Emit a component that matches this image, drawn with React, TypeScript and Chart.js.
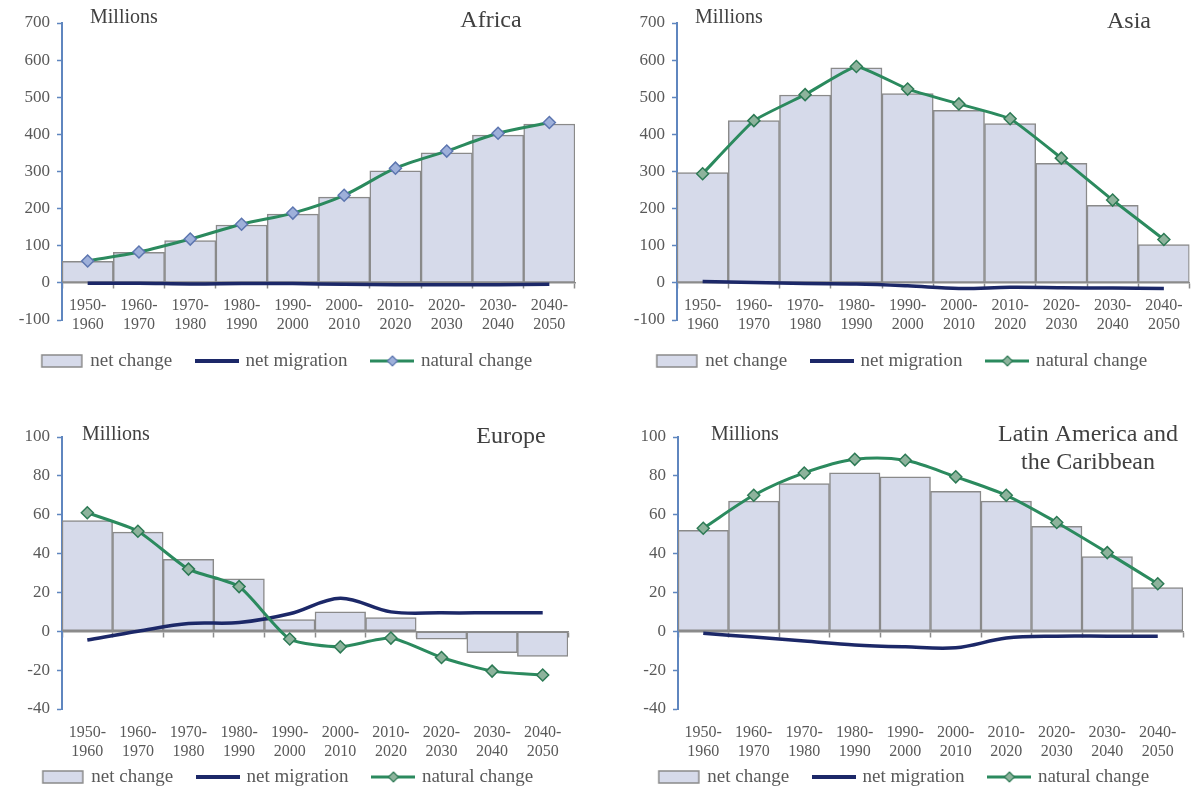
import React, { useEffect, useRef } from 'react';
import { Chart, registerables } from 'chart.js';

Chart.register(...registerables);

// ---------- data ----------
const PERIOD_START = ['1950-', '1960-', '1970-', '1980-', '1990-', '2000-', '2010-', '2020-', '2030-', '2040-'];
const PERIOD_END = ['1960', '1970', '1980', '1990', '2000', '2010', '2020', '2030', '2040', '2050'];

const AFRICA_NET = [58, 82, 114, 156, 185, 231, 302, 350, 398, 428];
const AFRICA_NATURAL = [59, 83, 118, 158, 188, 236, 309, 355, 403, 432];
const AFRICA_MIGRATION = [-1, -1, -3, -2, -2, -4, -5, -5, -5, -4];

const ASIA_NET = [297, 437, 506, 579, 510, 465, 429, 322, 209, 103];
const ASIA_NATURAL = [294, 437, 507, 583, 522, 482, 442, 336, 223, 117];
const ASIA_MIGRATION = [4, 1, -2, -3, -8, -15, -12, -13, -14, -15];

const EUROPE_NET = [57, 51, 37, 27, 6, 10, 7, -4, -11, -13];
const EUROPE_NATURAL = [61, 51.5, 32, 23, -4, -8, -3.5, -13.5, -20.5, -22.5];
const EUROPE_MIGRATION = [-4.5, 0, 4, 4.5, 9, 17, 10, 9.5, 9.5, 9.5];

const LATAM_NET = [52, 67, 76, 81.5, 79.5, 72, 67, 54, 38.5, 22.5];
const LATAM_NATURAL = [53, 70, 81.5, 88.5, 88, 79.5, 70, 56, 40.5, 24.5];
const LATAM_MIGRATION = [-1, -3, -5, -7, -8, -8.5, -3.5, -2.5, -2.5, -2.5];

const TOP_Y_RANGE = [-100, 700, 100];
const BOTTOM_Y_RANGE = [-40, 100, 20];

const LEGEND_TEXTS = ['net change', 'net migration', 'natural change'];

// ---------- styles ----------
const FONT = "'Liberation Serif', 'Times New Roman', serif";
const TEXT = '#595959';
const TITLE = '#404040';
const BAR_FILL = '#d6daea';
const BAR_EDGE = '#8a8a8a';
const NAVY = '#1c2868';
const GREEN = '#2b8a5e';
const AXIS_BLUE = '#5f86bf';
const ZERO = '#8c8c8c';

Chart.defaults.font.family = FONT;

function makeIcon(kind: string, fill: string, stroke: string) {
  const c = document.createElement('canvas');
  c.width = 44;
  c.height = 16;
  const g = c.getContext('2d')!;
  if (kind === 'bar') {
    g.fillStyle = BAR_FILL;
    g.strokeStyle = BAR_EDGE;
    g.lineWidth = 1.5;
    g.fillRect(2, 2, 40, 12);
    g.strokeRect(2, 2, 40, 12);
  } else if (kind === 'migration') {
    g.strokeStyle = NAVY;
    g.lineWidth = 4;
    g.beginPath();
    g.moveTo(0, 8);
    g.lineTo(44, 8);
    g.stroke();
  } else {
    g.strokeStyle = GREEN;
    g.lineWidth = 3;
    g.beginPath();
    g.moveTo(0, 8);
    g.lineTo(44, 8);
    g.stroke();
    g.fillStyle = fill;
    g.strokeStyle = stroke;
    g.lineWidth = 1.2;
    g.beginPath();
    g.moveTo(22, 3);
    g.lineTo(27, 8);
    g.lineTo(22, 13);
    g.lineTo(17, 8);
    g.closePath();
    g.fill();
    g.stroke();
  }
  return c;
}

const textPlugin = {
  id: 'panelText',
  afterDraw(chart: any, _args: any, opts: any) {
    const ctx = chart.ctx;
    ctx.save();
    ctx.fillStyle = TITLE;
    ctx.textBaseline = 'middle';
    ctx.textAlign = 'left';
    ctx.font = `20px ${FONT}`;
    ctx.fillText('Millions', opts.millionsX, opts.millionsY);
    ctx.font = `24px ${FONT}`;
    ctx.textAlign = 'center';
    (opts.title as string[]).forEach((line, i) => ctx.fillText(line, opts.titleX, opts.titleY + i * 28));
    ctx.restore();
  },
};

type Panel = {
  title: string[];
  net: number[];
  natural: number[];
  migration: number[];
  range: number[];
  top: boolean;
  left: number;
  topPx: number;
  width: number;
  height: number;
  pad: { left: number; right: number; top: number; bottom: number };
  yWidth: number;
  xbHeight: number;
  millionsX: number;
  millionsY: number;
  titleX: number;
  titleY: number;
  markerFill: string;
  markerStroke: string;
  naturalTension: number;
};

const PANELS: Panel[] = [
  {
    title: ['Africa'], net: AFRICA_NET, natural: AFRICA_NATURAL, migration: AFRICA_MIGRATION,
    range: TOP_Y_RANGE, top: true, left: 0, topPx: 0, width: 598, height: 390,
    pad: { left: 0, right: 23, top: 23, bottom: 9.5 }, yWidth: 62, xbHeight: 5.5,
    millionsX: 90, millionsY: 18, titleX: 491, titleY: 21,
    markerFill: '#9eb0da', markerStroke: '#5d76b0', naturalTension: 0.3,
  },
  {
    title: ['Asia'], net: ASIA_NET, natural: ASIA_NATURAL, migration: ASIA_MIGRATION,
    range: TOP_Y_RANGE, top: true, left: 600, topPx: 0, width: 597, height: 390,
    pad: { left: 15, right: 7, top: 23, bottom: 9.5 }, yWidth: 62, xbHeight: 5.5,
    millionsX: 95, millionsY: 18, titleX: 529, titleY: 22,
    markerFill: '#8db39c', markerStroke: '#2d7a55', naturalTension: 0.12,
  },
  {
    title: ['Europe'], net: EUROPE_NET, natural: EUROPE_NATURAL, migration: EUROPE_MIGRATION,
    range: BOTTOM_Y_RANGE, top: false, left: 0, topPx: 390, width: 598, height: 416,
    pad: { left: 9, right: 30, top: 47, bottom: 9.5 }, yWidth: 53, xbHeight: 32.5,
    millionsX: 82, millionsY: 45, titleX: 511, titleY: 47,
    markerFill: '#8db39c', markerStroke: '#2d7a55', naturalTension: 0.2,
  },
  {
    title: ['Latin America and', 'the Caribbean'], net: LATAM_NET, natural: LATAM_NATURAL, migration: LATAM_MIGRATION,
    range: BOTTOM_Y_RANGE, top: false, left: 600, topPx: 390, width: 597, height: 416,
    pad: { left: 26, right: 14, top: 47, bottom: 9.5 }, yWidth: 52, xbHeight: 32.5,
    millionsX: 111, millionsY: 45, titleX: 488, titleY: 45,
    markerFill: '#8db39c', markerStroke: '#2d7a55', naturalTension: 0.3,
  },
];

function PanelChart({ p }: { p: Panel }) {
  const ref = useRef<HTMLCanvasElement>(null);
  useEffect(() => {
    if (!ref.current) return;
    const labels = PERIOD_START.map((s, i) => [s, PERIOD_END[i]]);
    const icons = [
      makeIcon('bar', '', ''),
      makeIcon('migration', '', ''),
      makeIcon('natural', p.markerFill, p.markerStroke),
    ];
    const tickFont = { size: 16, family: FONT };
    const scales: any = {
      x: {
        type: 'category',
        position: { y: 0 },
        offset: true,
        grid: { display: true, offset: true, drawOnChartArea: false, drawTicks: true, tickLength: 5, tickColor: ZERO, tickWidth: 1.5 },
        border: { display: true, color: ZERO, width: 1.5 },
        ticks: { display: p.top, font: tickFont, color: TEXT, padding: 8.4, maxRotation: 0, autoSkip: false },
      },
      xb: {
        type: 'category',
        position: 'bottom',
        offset: true,
        grid: { display: false, drawTicks: false },
        border: { display: false },
        ticks: { display: false },
        afterFit: (s: any) => { s.height = p.xbHeight; },
      },
      y: {
        min: p.range[0],
        max: p.range[1],
        z: 1,
        ticks: { stepSize: p.range[2], font: { size: 17, family: FONT }, color: TEXT, padding: 7 },
        grid: { display: true, drawOnChartArea: false, drawTicks: true, tickLength: 5, tickColor: AXIS_BLUE, tickWidth: 1.5 },
        border: { display: true, color: AXIS_BLUE, width: 2 },
        afterFit: (s: any) => { s.width = p.yWidth; },
      },
    };
    if (!p.top) {
      scales.xl = {
        type: 'category',
        position: { y: p.range[0] },
        offset: true,
        grid: { display: false, drawTicks: false },
        border: { display: false },
        ticks: { display: true, font: tickFont, color: TEXT, padding: 14.4, maxRotation: 0, autoSkip: false },
      };
    }
    const chart = new Chart(ref.current, {
      type: 'bar',
      data: {
        labels,
        datasets: [
          {
            type: 'line', label: LEGEND_TEXTS[2], data: p.natural, borderColor: GREEN, borderWidth: 3,
            pointStyle: 'rectRot', pointRadius: 6, pointBackgroundColor: p.markerFill,
            pointBorderColor: p.markerStroke, pointBorderWidth: 1.5, tension: p.naturalTension,
            order: 1, xAxisID: 'x', yAxisID: 'y',
          } as any,
          {
            type: 'line', label: LEGEND_TEXTS[1], data: p.migration, borderColor: NAVY, borderWidth: 3.5,
            pointRadius: 0, tension: 0.35, order: 2, xAxisID: 'x', yAxisID: 'y',
          } as any,
          {
            type: 'bar', label: LEGEND_TEXTS[0], data: p.net, backgroundColor: BAR_FILL, borderColor: BAR_EDGE,
            borderWidth: 1.5, borderSkipped: false, barPercentage: 1, categoryPercentage: 1,
            order: 3, xAxisID: 'x', yAxisID: 'y',
          } as any,
        ],
      },
      options: {
        responsive: false,
        animation: false,
        layout: { padding: p.pad },
        plugins: {
          tooltip: { enabled: false },
          legend: {
            position: 'bottom',
            onClick: () => {},
            labels: {
              usePointStyle: true,
              pointStyleWidth: 38,
              padding: 26,
              color: TEXT,
              font: { size: 19, family: FONT },
              generateLabels: () =>
                LEGEND_TEXTS.map((t, i) => ({
                  text: t, pointStyle: icons[i] as any, fillStyle: 'rgba(0,0,0,0)',
                  strokeStyle: 'rgba(0,0,0,0)', lineWidth: 0, hidden: false, datasetIndex: 2 - i, fontColor: TEXT,
                })),
            },
          },
          panelText: {
            title: p.title, millionsX: p.millionsX, millionsY: p.millionsY, titleX: p.titleX, titleY: p.titleY,
          },
        } as any,
        scales,
      } as any,
      plugins: [textPlugin],
    });
    return () => chart.destroy();
  }, [p]);
  return (
    <canvas
      ref={ref}
      width={p.width}
      height={p.height}
      style={{ position: 'absolute', left: p.left, top: p.topPx, width: p.width, height: p.height }}
    />
  );
}

export default function App() {
  return (
    <div style={{ position: 'absolute', left: 0, top: 0, width: 1197, height: 789, overflow: 'hidden', background: '#ffffff' }}>
      {PANELS.map((p, i) => (
        <PanelChart key={i} p={p} />
      ))}
    </div>
  );
}
